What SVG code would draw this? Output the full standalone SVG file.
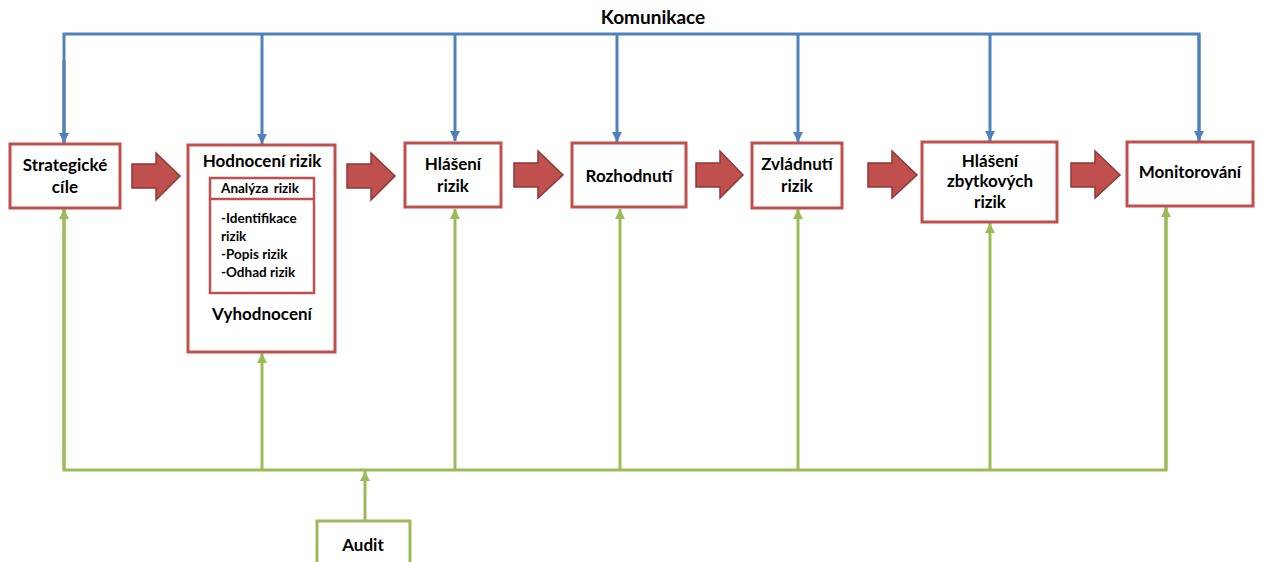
<svg xmlns="http://www.w3.org/2000/svg" width="1263" height="562" viewBox="0 0 1263 562">
<defs>
<marker id="ab" markerUnits="userSpaceOnUse" markerWidth="12" markerHeight="12" viewBox="0 0 12 12" refX="10" refY="6" orient="auto"><path d="M0,1 L10,6 L0,11 z" fill="#4f81bd"/></marker>
<marker id="ag" markerUnits="userSpaceOnUse" markerWidth="12" markerHeight="12" viewBox="0 0 12 12" refX="10" refY="6" orient="auto"><path d="M0,1 L10,6 L0,11 z" fill="#9bbb59"/></marker>
</defs>
<style>
.box{fill:#fff;stroke:#c0504d;stroke-width:3}
.gbox{fill:#fff;stroke:#9bbb59;stroke-width:3}
.t{font-family:Lato,"Open Sans",sans-serif;font-weight:bold;font-size:17px;fill:#000;text-anchor:middle}
.s{font-family:Lato,"Open Sans",sans-serif;font-weight:bold;font-size:13.5px;fill:#000}
.blue{fill:none;stroke:#4f81bd;stroke-width:3}
.green{fill:none;stroke:#9bbb59;stroke-width:3}
.barrow{fill:#c0504d;stroke:#8c3836;stroke-width:1.5}
</style>
<g id="connectors">
<path class="blue" d="M64,144 V34 H1199 V142"/>
<path class="blue" d="M64,60 V143" marker-end="url(#ab)"/>
<path class="blue" d="M262,34 V144" marker-end="url(#ab)"/>
<path class="blue" d="M455,34 V141" marker-end="url(#ab)"/>
<path class="blue" d="M617,34 V142" marker-end="url(#ab)"/>
<path class="blue" d="M798,34 V142" marker-end="url(#ab)"/>
<path class="blue" d="M990,34 V141" marker-end="url(#ab)"/>
<path class="blue" d="M1199,34 V141" marker-end="url(#ab)"/>
<path class="green" d="M64,210 V470 H1166 V208"/>
<path class="green" d="M64,470 V209" marker-end="url(#ag)"/>
<path class="green" d="M262,470 V353" marker-end="url(#ag)"/>
<path class="green" d="M455,470 V209" marker-end="url(#ag)"/>
<path class="green" d="M620,470 V209" marker-end="url(#ag)"/>
<path class="green" d="M798,470 V209" marker-end="url(#ag)"/>
<path class="green" d="M990,470 V223" marker-end="url(#ag)"/>
<path class="green" d="M1166,470 V207" marker-end="url(#ag)"/>
<path class="green" d="M365,521 V471" marker-end="url(#ag)"/>
<path class="barrow" d="M132,164 H156 V153 L180,176 L156,200 V188 H132 z"/>
<path class="barrow" d="M347,164 H371 V153 L395,176 L371,200 V188 H347 z"/>
<path class="barrow" d="M514,163 H538 V151 L563,175 L538,198 V187 H514 z"/>
<path class="barrow" d="M696,163 H720 V151 L743,175 L720,198 V187 H696 z"/>
<path class="barrow" d="M868,163 H892 V151 L917,175 L892,198 V187 H868 z"/>
<path class="barrow" d="M1071,163 H1095 V151 L1120,175 L1095,198 V187 H1071 z"/>
</g>
<text class="t" x="653" y="24" style="font-size:19px">Komunikace</text>
<g id="strategicke">
<rect class="box" x="10" y="144" width="110" height="64"/>
<text class="t" x="65" y="171">Strategické</text>
<text class="t" x="65" y="193">cíle</text>
</g>
<g id="hodnoceni">
<rect class="box" x="188" y="145" width="147" height="207"/>
<text class="t" x="262" y="167">Hodnocení rizik</text>
<rect class="box" x="210" y="178" width="104" height="115" style="stroke-width:2.5"/>
<line x1="210" y1="199" x2="314" y2="199" stroke="#c0504d" stroke-width="2.5"/>
<text class="s" x="260" y="193" text-anchor="middle" style="word-spacing:2px">Analýza rizik</text>
<text class="s" x="221" y="223">-Identifikace</text>
<text class="s" x="221" y="241">rizik</text>
<text class="s" x="221" y="259">-Popis rizik</text>
<text class="s" x="221" y="277">-Odhad rizik</text>
<text class="t" x="262" y="320">Vyhodnocení</text>
</g>
<g id="hlaseni">
<rect class="box" x="405" y="143" width="96" height="64"/>
<text class="t" x="453" y="170">Hlášení</text>
<text class="t" x="453" y="192">rizik</text>
</g>
<g id="rozhodnuti">
<rect class="box" x="572" y="143" width="114" height="64"/>
<text class="t" x="629" y="182">Rozhodnutí</text>
</g>
<g id="zvladnuti">
<rect class="box" x="752" y="143" width="90" height="65"/>
<text class="t" x="797" y="170">Zvládnutí</text>
<text class="t" x="797" y="192">rizik</text>
</g>
<g id="zbytkove">
<rect class="box" x="922" y="142" width="135" height="80"/>
<text class="t" x="990" y="167">Hlášení</text>
<text class="t" x="990" y="187">zbytkových</text>
<text class="t" x="990" y="208">rizik</text>
</g>
<g id="monitorovani">
<rect class="box" x="1127" y="142" width="126" height="64"/>
<text class="t" x="1190" y="178">Monitorování</text>
</g>
<g id="audit">
<rect class="gbox" x="317" y="521" width="93" height="45"/>
<text class="t" x="363" y="551">Audit</text>
</g>
</svg>
